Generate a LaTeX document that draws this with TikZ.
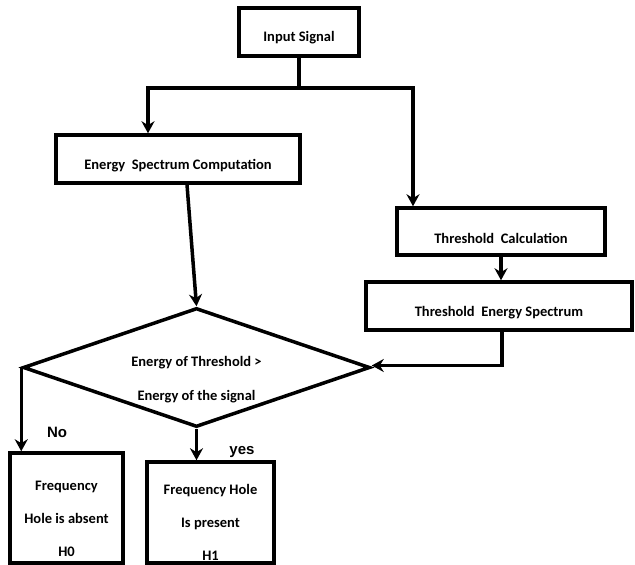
\documentclass[tikz,border=0pt]{standalone}
\usepackage{fontspec}
\setmainfont{Carlito}
\newfontfamily\arialb{Liberation Sans}
\usetikzlibrary{shapes.geometric,arrows.meta}

\tikzset{
    blk/.style = {draw, line width=3.5pt, rectangle, inner sep=0pt},
    txt/.style = {align=center, font=\fontsize{14.5}{17}\selectfont\bfseries},
    arr/.style = {line width=3.5pt, -{Stealth[length=12pt,width=13pt]}},
    lbl/.style = {font=\arialb\fontsize{15}{17}\selectfont\bfseries}
}

\begin{document}
\begin{tikzpicture}[x=1pt, y=-1pt]
    \useasboundingbox (0,0) rectangle (635,565);
    \node[blk, minimum width=120, minimum height=48,
          label={[txt, yshift=-6pt]center:Input Signal}] (inp) at (299,32) {};
    \node[blk, minimum width=244, minimum height=48,
          label={[txt, yshift=-7pt]center:Energy\ \ Spectrum Computation}] (ener) at (178,159) {};
    \node[blk, minimum width=208, minimum height=47,
          label={[txt, yshift=-7pt]center:Threshold\ \ Calculation}] (thcal) at (501,231.5) {};
    \node[blk, minimum width=266, minimum height=48,
          label={[txt, yshift=-7pt]center:Threshold\ \ Energy Spectrum}] (thspec) at (499,306) {};
    \node[blk, diamond, minimum width=347, minimum height=119,
          label={[txt, yshift=-12pt]center:Energy of Threshold >\\[17pt] Energy of the signal}] (dec) at (196.5,367.5) {};
    \node[blk, minimum width=113, minimum height=110,
          label={[txt, yshift=-11pt]center:Frequency\\[16pt] Hole is absent\\[16pt] H0}] (absent) at (66.5,508) {};
    \node[blk, minimum width=127, minimum height=101,
          label={[txt, yshift=-10pt]center:Frequency Hole\\[16pt] Is present\\[16pt] H1}] (present) at (210.5,512.5) {};
    \coordinate (split) at (299,88);
    \draw[line width=3.5pt] (inp.south) -- (split);
    \draw[arr] (split) -| ([xshift=-30pt]ener.north);
    \draw[arr] (split) -| ([xshift=-88pt]thcal.north);
    \draw[arr] ([xshift=9pt]ener.south) -- (dec.north);
    \draw[arr] (thcal.south) -- (thcal.south |- thspec.north);
    \draw[arr] ([xshift=3pt]thspec.south) |- ([yshift=2pt]dec.east);
    \draw[arr] (dec.west) -- (dec.west |- absent.north);
    \draw[arr] (dec.south) -- (dec.south |- present.north);
    \node[lbl] (no) at (57,432) {No};
    \node[lbl] (yes) at (242,452) {yes};
\end{tikzpicture}
\end{document}
